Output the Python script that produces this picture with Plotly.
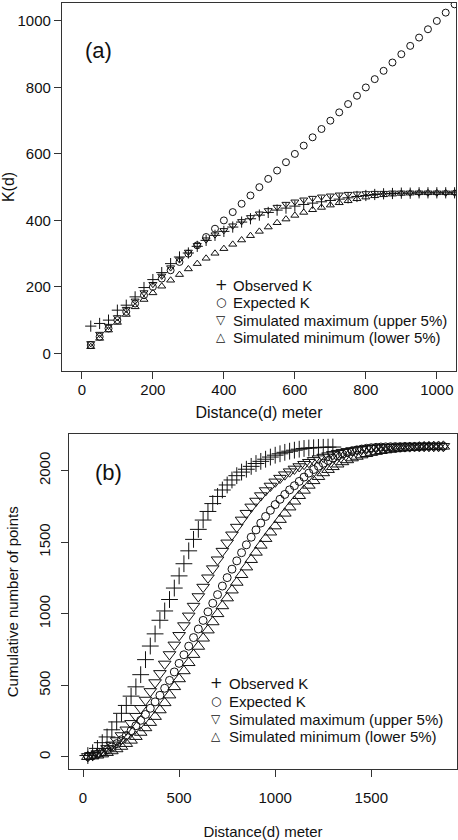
import plotly.graph_objects as go

# ---------------- Panel (a) data ----------------
dist_a = [25, 50, 75, 100, 125, 150, 175, 200, 225, 250, 275, 300, 325, 350, 375, 400,
          425, 450, 475, 500, 525, 550, 575, 600, 625, 650, 675, 700, 725, 750, 775, 800,
          825, 850, 875, 900, 925, 950, 975, 1000, 1025, 1050]
observed_a = [82, 90, 100, 130, 145, 170, 198, 222, 243, 270, 290, 302, 322, 340, 355, 367,
              380, 395, 405, 416, 424, 431, 437, 443, 448, 452, 456, 460, 464, 468, 472, 475,
              478, 480, 481, 482, 482, 483, 483, 483, 483, 483]
expected_a = [25, 50, 75, 100, 125, 150, 175, 200, 225, 250, 275, 300, 325, 350, 375, 400,
              425, 450, 475, 500, 525, 550, 575, 600, 625, 650, 675, 700, 725, 750, 775, 800,
              825, 850, 875, 900, 925, 950, 975, 1000, 1025, 1050]
simmax_a = [30, 58, 82, 108, 133, 158, 183, 208, 233, 258, 282, 305, 325, 342, 357, 370,
            384, 397, 409, 420, 430, 440, 449, 456, 462, 467, 471, 474, 477, 479, 480, 481,
            482, 482, 483, 483, 483, 483, 483, 483, 483, 483]
simmin_a = [20, 45, 70, 93, 117, 140, 162, 182, 202, 220, 237, 254, 270, 286, 301, 315,
            328, 341, 354, 367, 380, 393, 404, 415, 424, 432, 439, 446, 453, 459, 465, 470,
            474, 477, 479, 481, 482, 483, 483, 483, 483, 483]

# ---------------- Panel (b) data ----------------
dist_b = [25, 50, 75, 100, 125, 150, 175, 200, 225, 250, 275, 300, 325, 350, 375, 400,
          425, 450, 475, 500, 525, 550, 575, 600, 625, 650, 675, 700, 725, 750, 775, 800,
          825, 850, 875, 900, 925, 950, 975, 1000, 1025, 1050, 1075, 1100, 1125, 1150, 1175, 1200,
          1225, 1250, 1275, 1300, 1325, 1350, 1375, 1400, 1425, 1450, 1475, 1500, 1525, 1550,
          1575, 1600, 1625, 1650, 1675, 1700, 1725, 1750, 1775, 1800, 1825, 1850, 1875]
dist_b_obs = [25, 50, 75, 100, 125, 150, 175, 200, 225, 250, 275, 300, 325, 350, 375, 400,
              425, 450, 475, 500, 525, 550, 575, 600, 625, 650, 675, 700, 725, 750, 775, 800,
              825, 850, 875, 900, 925, 950, 975, 1000, 1025, 1050, 1075, 1100, 1125, 1150, 1175, 1200,
              1225, 1250, 1275, 1300]
observed_b = [10, 30, 60, 100, 140, 190, 245, 305, 360, 425, 490, 575, 680, 775, 860, 955,
              1020, 1100, 1180, 1265, 1350, 1440, 1520, 1590, 1655, 1715, 1770, 1820, 1865, 1900, 1935, 1965,
              1990, 2010, 2030, 2050, 2065, 2080, 2095, 2108, 2118, 2128, 2136, 2143, 2150, 2155, 2158, 2160,
              2162, 2163, 2164, 2165]
expected_b = [4, 10, 20, 33, 50, 70, 93, 120, 150, 183, 218, 256, 297, 340, 385, 431,
              480, 535, 594, 654, 714, 774, 834, 894, 954, 1014, 1074, 1134, 1194, 1253, 1312, 1370,
              1427, 1482, 1535, 1586, 1634, 1680, 1723, 1763, 1800, 1834, 1866, 1895, 1925, 1955, 1983, 2008,
              2031, 2052, 2071, 2088, 2103, 2116, 2127, 2137, 2145, 2151, 2156, 2160, 2163, 2165,
              2166, 2167, 2168, 2168, 2169, 2169, 2169, 2170, 2170, 2170, 2170, 2170, 2170]
simmax_b = [4, 12, 24, 40, 60, 85, 115, 150, 190, 235, 285, 340, 398, 458, 520, 584,
            650, 716, 783, 850, 918, 986, 1054, 1121, 1187, 1252, 1316, 1378, 1438, 1496, 1552, 1606,
            1656, 1703, 1747, 1788, 1826, 1861, 1893, 1922, 1948, 1972, 1993, 2012, 2029, 2045, 2059, 2072,
            2084, 2095, 2105, 2114, 2122, 2129, 2135, 2141, 2146, 2150, 2154, 2157, 2160, 2162,
            2164, 2165, 2166, 2167, 2168, 2168, 2169, 2169, 2170, 2170, 2170, 2170, 2170]
simmin_b = [2, 6, 12, 20, 30, 42, 56, 73, 93, 116, 142, 171, 203, 240, 282, 328,
            378, 432, 490, 545, 601, 658, 715, 772, 829, 886, 943, 1000, 1055, 1110, 1165, 1219,
            1273, 1326, 1378, 1429, 1478, 1525, 1570, 1613, 1658, 1702, 1745, 1786, 1825, 1862, 1897, 1929,
            1958, 1984, 2007, 2027, 2045, 2061, 2075, 2088, 2099, 2109, 2118, 2126, 2133, 2139,
            2144, 2148, 2152, 2155, 2158, 2160, 2162, 2164, 2166, 2167, 2168, 2169, 2170]

series_names = ["Observed K", "Expected K", "Simulated maximum (upper 5%)", "Simulated minimum (lower 5%)"]
legend_glyphs = ["+", "○", "▽", "△"]
xticks_a = [0, 200, 400, 600, 800, 1000]
yticks_a = [0, 200, 400, 600, 800, 1000]
xticks_b = [0, 500, 1000, 1500]
yticks_b = [0, 500, 1000, 1500, 2000]

FONT = "Arial, Liberation Sans, sans-serif"
SYMFONT = "DejaVu Sans, sans-serif"
INK = "#111111"
W, H = 458, 840

fig = go.Figure()

def add_series(x, y, name, symbol, size, xa, ya):
    fig.add_trace(go.Scatter(
        x=x, y=y, mode="markers", name=name, xaxis=xa, yaxis=ya, showlegend=False,
        marker=dict(symbol=symbol, size=size, color=INK, line=dict(color=INK, width=1)),
    ))

symbols = ["cross-thin-open", "circle-open", "triangle-down-open", "triangle-up-open"]
sizes_a = [8, 7, 7, 7]
sizes_b = [12, 8, 11, 11]
data_a = [(dist_a, observed_a), (dist_a, expected_a), (dist_a, simmax_a), (dist_a, simmin_a)]
data_b = [(dist_b_obs, observed_b), (dist_b, expected_b), (dist_b, simmax_b), (dist_b, simmin_b)]
for (x, y), name, sym, sz in zip(data_a, series_names, symbols, sizes_a):
    add_series(x, y, name, sym, sz, "x", "y")
for (x, y), name, sym, sz in zip(data_b, series_names, symbols, sizes_b):
    add_series(x, y, name, sym, sz, "x2", "y2")

axis_common = dict(showgrid=False, zeroline=False, showline=True, mirror=True,
                   linecolor="#333333", linewidth=1.3, ticks="outside", ticklen=7,
                   tickcolor="#333333", tickwidth=1.2,
                   tickfont=dict(family=FONT, size=15, color=INK))

# legend drawn as text: glyph column + label column (pixel positions of the reference)
annotations = []
def legend_block(sym_x, text_x, rows_y):
    for glyph, name, yy in zip(legend_glyphs, series_names, rows_y):
        annotations.append(dict(text=glyph, x=sym_x / W, y=1 - yy / H, xref="paper", yref="paper",
                                xanchor="center", yanchor="middle", showarrow=False,
                                font=dict(family=SYMFONT, size=12 if glyph != "+" else 15, color=INK)))
        annotations.append(dict(text=name, x=text_x / W, y=1 - yy / H, xref="paper", yref="paper",
                                xanchor="left", yanchor="middle", showarrow=False,
                                font=dict(family=FONT, size=15, color=INK)))

legend_block(221, 231, [285, 302, 320, 337])
legend_block(216, 227, [683, 701, 719, 736])

annotations += [
    dict(text="(a)", x=98 / W, y=1 - 50 / H, xref="paper", yref="paper", xanchor="center",
         yanchor="middle", showarrow=False, font=dict(family=FONT, size=22, color=INK)),
    dict(text="(b)", x=108 / W, y=1 - 472 / H, xref="paper", yref="paper", xanchor="center",
         yanchor="middle", showarrow=False, font=dict(family=FONT, size=22, color=INK)),
]

fig.update_layout(
    width=W, height=H, margin=dict(l=0, r=0, t=0, b=0),
    paper_bgcolor="white", plot_bgcolor="white", showlegend=False,
    font=dict(family=FONT, color=INK),
    xaxis=dict(axis_common, domain=[62 / W, 456 / W], range=[-56, 1054], anchor="y",
               tickvals=xticks_a, ticklabelstandoff=-2,
               title=dict(text="Distance(d) meter", font=dict(family=FONT, size=16, color=INK), standoff=9)),
    yaxis=dict(axis_common, domain=[1 - 371 / H, 1 - 3 / H], range=[-53, 1054], anchor="x",
               tickvals=yticks_a,
               title=dict(text="K(d)", font=dict(family=FONT, size=16, color=INK), standoff=3)),
    xaxis2=dict(axis_common, domain=[69 / W, 457 / W], range=[-73, 1946], anchor="y2",
                tickvals=xticks_b, ticklabelstandoff=8,
                title=dict(text="Distance(d) meter", font=dict(family=FONT, size=15, color=INK), standoff=23)),
    yaxis2=dict(axis_common, domain=[1 - 769.3 / H, 1 - 434.3 / H], range=[-86, 2254], anchor="x2",
                tickvals=yticks_b, tickangle=-90, ticklabelstandoff=5,
                title=dict(text="Cumulative number of points", font=dict(family=FONT, size=15, color=INK), standoff=13)),
    annotations=annotations,
)

fig.write_html("out.html", config={"displayModeBar": False},
               post_script="document.body.style.margin='0';document.body.style.overflow='hidden';")
